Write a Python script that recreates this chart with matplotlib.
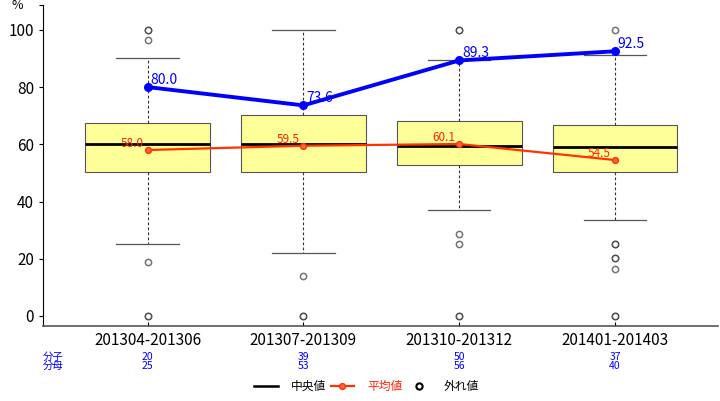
import matplotlib
matplotlib.use("Agg")
import matplotlib.pyplot as plt
from matplotlib import font_manager
from matplotlib.lines import Line2D

# 使えるフォントを確認（細めの字形があればそれを優先）
installed = {f.name for f in font_manager.fontManager.ttflist}
families = [f for f in ["Liberation Sans Narrow", "Noto Sans CJK JP", "DejaVu Sans"] if f in installed]
plt.rcParams["font.family"] = families

# データ
periods = ["201304-201306", "201307-201309", "201310-201312", "201401-201403"]
q1 = [50.2, 50.2, 52.7, 50.3]
median = [60.2, 60.2, 59.4, 59.1]
q3 = [67.6, 70.4, 68.2, 66.7]
whislo = [25.1, 21.9, 36.9, 33.4]
whishi = [90.2, 100.0, 89.4, 91.1]
outliers = [
    [100, 100, 96.5, 18.8, 0, 0],
    [14.1, 0, 0],
    [100, 100, 28.5, 25.0, 0, 0],
    [100, 25.0, 25.0, 20.1, 20.1, 16.5, 0, 0],
]
means = [58.0, 59.5, 60.1, 54.5]
rates = [80.0, 73.6, 89.3, 92.5]
numer = [20, 39, 50, 37]
denom = [25, 53, 56, 40]

fig = plt.figure(figsize=(7.2, 4.01), dpi=100)
ax = fig.add_axes([0.06, 0.187, 0.937, 0.8])

positions = list(range(1, len(periods) + 1))
stats = []
for i in range(len(periods)):
    stats.append({
        "med": median[i], "q1": q1[i], "q3": q3[i],
        "whislo": whislo[i], "whishi": whishi[i], "fliers": [],
    })

ax.bxp(
    stats, positions=positions, widths=0.8, patch_artist=True,
    boxprops=dict(facecolor="#ffff99", edgecolor="#555555", linewidth=0.8),
    medianprops=dict(color="black", linewidth=2),
    whiskerprops=dict(color="#333333", linewidth=0.8, linestyle=(0, (2.5, 2))),
    capprops=dict(color="#555555", linewidth=0.9),
    capwidths=0.4, zorder=2,
)

# 外れ値（重なると濃く見える）
for pos, vals in zip(positions, outliers):
    ax.plot([pos] * len(vals), vals, linestyle="none", marker="o", markersize=4.5,
            markerfacecolor="white", markeredgecolor=(0, 0, 0, 0.55),
            markeredgewidth=1.1, zorder=3)

# 平均値
ax.plot(positions, means, color="#ff3300", linewidth=1.6, marker="o", markersize=4.2,
        markerfacecolor="#ff6644", markeredgecolor="#ff3300", zorder=4)
for pos, v in zip(positions, means):
    ax.annotate(f"{v:.1f}", (pos, v), xytext=(-3, 0), textcoords="offset points",
                ha="right", va="bottom", color="#ff2200", fontsize=8.5, zorder=5)

# 率
ax.plot(positions, rates, color="#0000ff", linewidth=2.8, marker="o", markersize=5.5, zorder=5)
for pos, v in zip(positions, rates):
    ax.annotate(f"{v:.1f}", (pos, v), xytext=(2, 0), textcoords="offset points",
                ha="left", va="bottom", color="#0000ff", fontsize=10, zorder=6)

ax.set_xlim(0.33, 4.66)
ax.set_ylim(-3.5, 108.6)
ax.set_yticks([0, 20, 40, 60, 80, 100, 108.6])
ax.set_yticklabels(["0", "20", "40", "60", "80", "100", ""])
ax.text(-0.03, 108.6, "%", transform=ax.get_yaxis_transform(), ha="right", va="center",
        fontsize=9)
ax.set_xticks(positions)
ax.set_xticklabels(periods, fontsize=11)
ax.tick_params(axis="y", labelsize=11, length=3, width=0.8)
ax.tick_params(axis="x", direction="in", length=3, width=0.8, pad=4)

for side in ["top", "right"]:
    ax.spines[side].set_visible(False)
ax.spines["left"].set_color("black")
ax.spines["bottom"].set_color("#555555")
ax.spines["bottom"].set_linewidth(1.2)

# 分子・分母
xform = ax.get_xaxis_transform()
ax.text(0.0, -0.097, "分子", transform=ax.transAxes, ha="left", va="center",
        color="#0000ff", fontsize=7.5)
ax.text(0.0, -0.125, "分母", transform=ax.transAxes, ha="left", va="center",
        color="#0000ff", fontsize=7.5)
for pos, n, d in zip(positions, numer, denom):
    ax.text(pos, -0.097, str(n), transform=xform, ha="center", va="center",
            color="#0000ff", fontsize=7.5)
    ax.text(pos, -0.125, str(d), transform=xform, ha="center", va="center",
            color="#0000ff", fontsize=7.5)

handles = [
    Line2D([], [], color="black", linewidth=1.8),
    Line2D([], [], color="#ff3300", linewidth=1.6, marker="o", markersize=4.2,
           markerfacecolor="#ff6644"),
    Line2D([], [], linestyle="none", marker="o", markersize=4.5,
           markerfacecolor="white", markeredgecolor="black", markeredgewidth=1.5),
]
leg = fig.legend(handles, ["中央値", "平均値", "外れ値"], loc="center",
                 bbox_to_anchor=(0.509, 0.037), ncol=3, frameon=False, fontsize=8.5,
                 handlelength=2.0, columnspacing=0.4, handletextpad=1.1)
leg.get_texts()[1].set_color("#ff2200")

fig.savefig("out.png", dpi=100)
